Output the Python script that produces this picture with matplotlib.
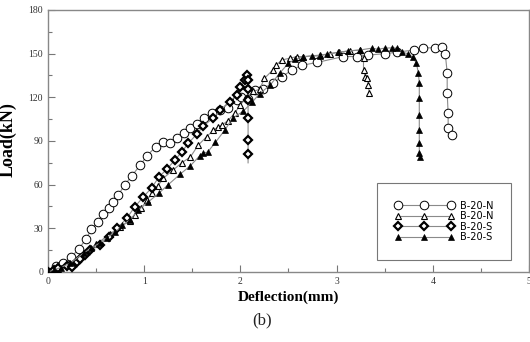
import numpy as np
import matplotlib.pyplot as plt
from matplotlib.ticker import MultipleLocator

# B-20-N (open circles)
n1_x = [0, 0.08, 0.16, 0.24, 0.32, 0.40, 0.45, 0.52, 0.57, 0.63, 0.68, 0.73, 0.80, 0.87,
        0.96, 1.03, 1.12, 1.20, 1.27, 1.34, 1.41, 1.48, 1.55, 1.62, 1.70, 1.79, 1.87,
        1.96, 2.01, 2.08, 2.15, 2.24, 2.34, 2.43, 2.54, 2.64, 2.80, 3.07, 3.21, 3.33,
        3.50, 3.63, 3.80, 3.90, 4.02, 4.10, 4.13, 4.15, 4.15, 4.16, 4.16, 4.20]
n1_y = [0, 4, 6, 10, 16, 23, 29.5, 34.5, 40, 44, 48, 53, 60, 66,
        73.5, 80, 86, 89, 88.5, 92, 95.5, 99, 102, 106, 109, 111, 113,
        118, 120, 119, 125, 126, 130, 134, 139, 142, 144, 148, 148, 149,
        150, 151, 152.5, 154, 154, 154.5, 150, 137, 123, 109, 99, 94]

# B-20-N (open triangles)
n2_x = [0, 0.10, 0.22, 0.35, 0.50, 0.64, 0.75, 0.85, 0.90, 0.97, 1.03, 1.08, 1.14, 1.20,
        1.30, 1.39, 1.48, 1.56, 1.65, 1.72, 1.77, 1.81, 1.87, 1.94, 2.00, 2.07, 2.13,
        2.20, 2.25, 2.34, 2.37, 2.43, 2.52, 2.59, 2.65, 2.83, 2.93, 3.03, 3.14, 3.24,
        3.28, 3.28, 3.30, 3.32, 3.33, 3.34]
n2_y = [0, 2, 6, 12, 19, 26, 31, 35, 39, 44, 49.5, 54, 59, 64.5,
        70, 75, 79, 87, 93, 97.5, 99.6, 101, 104, 109, 115, 120, 124,
        125.5, 133, 139, 142, 145.6, 147, 148, 148, 149, 150, 151, 152, 152.5,
        147, 139, 134, 133, 128.5, 123]

# B-20-S (diamonds)
s1_x = [0, 0.06, 0.10, 0.20, 0.25, 0.30, 0.33, 0.38, 0.44, 0.54, 0.63, 0.72, 0.82, 0.90,
        0.99, 1.08, 1.15, 1.24, 1.32, 1.39, 1.46, 1.55, 1.61, 1.72, 1.79, 1.89, 1.96,
        2.00, 2.05, 2.07, 2.08, 2.08, 2.08, 2.08, 2.08, 2.08, 2.08]
s1_y = [0, 1.4, 3, 4, 3.5, 7, 9, 11.7, 15, 18.5, 24, 30, 37, 44.6,
        51.5, 58, 65, 71, 77, 82.5, 88.5, 95, 100, 106, 111, 117, 121.5,
        127, 132, 135, 132, 126, 118, 106, 90.7, 81, 75]

# B-20-S (filled triangles)
s2_x = [0, 0.06, 0.13, 0.23, 0.37, 0.45, 0.54, 0.61, 0.70, 0.77, 0.85, 0.94, 1.04, 1.15,
        1.25, 1.37, 1.48, 1.58, 1.61, 1.66, 1.74, 1.84, 1.92, 2.03, 2.12, 2.20, 2.31,
        2.41, 2.50, 2.57, 2.65, 2.74, 2.83, 2.90, 3.02, 3.12, 3.24, 3.37, 3.43, 3.50,
        3.58, 3.63, 3.68, 3.74, 3.79, 3.83, 3.85, 3.86, 3.86, 3.86, 3.86, 3.86, 3.86, 3.87]
s2_y = [0, 1.5, 3, 6, 13, 16.5, 20, 23.5, 27.5, 32, 35.7, 42.6, 48, 54,
        60, 67, 73, 80, 81.7, 82.4, 89, 97.7, 105.7, 110.5, 116.5, 122.5, 128.4,
        136.7, 143.5, 146, 147.7, 148.4, 148.4, 149.7, 151, 151.8, 152.5, 153.8, 153, 153.8,
        154, 153.8, 151, 150, 147.7, 143.5, 136.7, 130, 119.5, 108, 97.5, 88.6, 81.7, 79]

labels = ['B-20-N', 'B-20-N', 'B-20-S', 'B-20-S']

fig = plt.figure(figsize=(5.3, 3.42), dpi=100)
ax = fig.add_axes([0.0906, 0.2047, 0.9074, 0.7661])

lc = '#8a8a8a'
ax.plot(n1_x, n1_y, color=lc, lw=0.8, marker='o', ms=6.2, mfc='white', mec='black',
        mew=0.7, label=labels[0], zorder=3)
ax.plot(n2_x, n2_y, color=lc, lw=0.8, marker='^', ms=4.6, mfc='white', mec='black',
        mew=0.8, label=labels[1], zorder=4)
ax.plot(s1_x, s1_y, color=lc, lw=0.8, marker='D', ms=4.0, mfc='white', mec='black',
        mew=1.6, label=labels[2], zorder=5, markevery=list(range(len(s1_x) - 1)))
ax.plot(s2_x, s2_y, color=lc, lw=0.8, marker='^', ms=4.6, mfc='black', mec='black',
        mew=0.5, label=labels[3], zorder=6)

ax.set_xlim(0, 5)
ax.set_ylim(0, 180)
ax.xaxis.set_major_locator(MultipleLocator(1))
ax.xaxis.set_minor_locator(MultipleLocator(0.5))
ax.yaxis.set_major_locator(MultipleLocator(30))
ax.yaxis.set_minor_locator(MultipleLocator(15))
ax.tick_params(which='both', direction='in', color='#777777', labelcolor='#333333',
               labelsize=7, labelfontfamily='Liberation Serif')
ax.tick_params(which='major', length=5, width=0.8)
ax.tick_params(which='minor', length=3, width=0.8)
for sp in ax.spines.values():
    sp.set_color('#888888')
    sp.set_linewidth(1.0)

ax.set_xlabel('Deflection(mm)', fontfamily='Liberation Serif', fontweight='bold',
              fontsize=11, labelpad=3)
ax.set_ylabel('Load(kN)', fontfamily='Liberation Serif', fontweight='bold',
              fontsize=13)
ax.yaxis.set_label_coords(-0.0645, 0.504)

leg = ax.legend(loc='upper left', bbox_to_anchor=(0.684, 0.34), numpoints=3,
                handlelength=6.05, prop={'family': 'DejaVu Sans', 'size': 7},
                frameon=True, fancybox=False, edgecolor='#555555',
                borderpad=1.85, labelspacing=0.05, handletextpad=0.63,
                borderaxespad=0)
leg.get_frame().set_linewidth(0.8)

fig.text(0.495, 0.064, '(b)', ha='center', va='center', fontsize=12,
         fontfamily='Liberation Serif', color='#222222')

fig.savefig('out.png', dpi=100)
